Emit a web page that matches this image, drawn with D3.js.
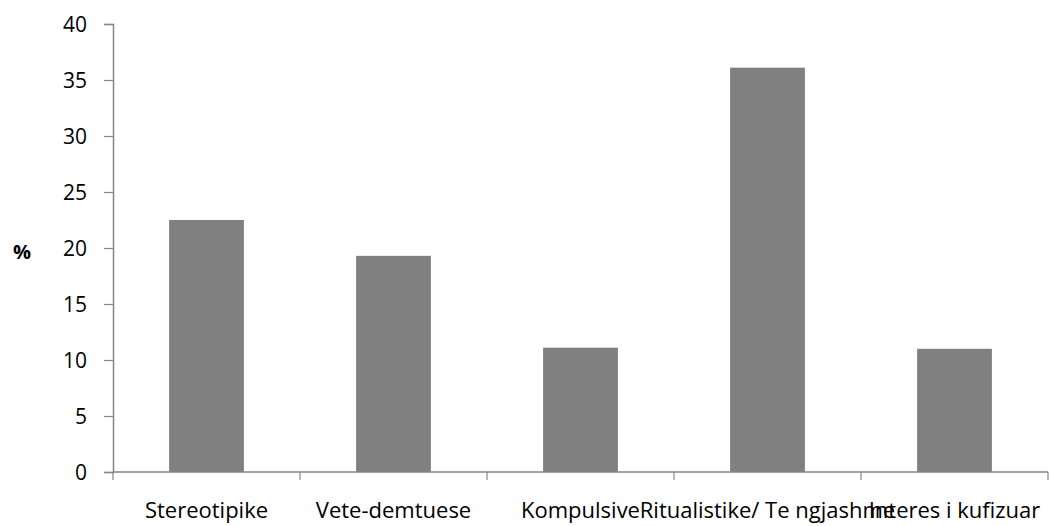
<!DOCTYPE html>
<html>
<head>
<meta charset="utf-8">
<script src="https://cdn.jsdelivr.net/npm/d3@7"></script>
<style>
  html, body { margin: 0; padding: 0; background: #fff; }
  svg text { font-family: "Open Sans", "Noto Sans", sans-serif; fill: #000; }
</style>
</head>
<body>
<svg id="chart" width="1049" height="526"></svg>
<script>
// Share of repetitive behaviour types (%)
const categories = ["Stereotipike", "Vete-demtuese", "Kompulsive", "Ritualistike/ Te ngjashme", "Interes i kufizuar"];
const values = [22.5, 19.3, 11.1, 36.1, 11.0];
const yTicks = [0, 5, 10, 15, 20, 25, 30, 35, 40];

const svg = d3.select("#chart");
const plotLeft = 113, plotRight = 1048, plotTop = 24, plotBottom = 472;

const x = d3.scaleBand().domain(categories).range([plotLeft, plotRight]).paddingInner(0.6).paddingOuter(0.3);
const band = d3.scaleBand().domain(categories).range([plotLeft, plotRight]);
const y = d3.scaleLinear().domain([0, 40]).range([plotBottom, plotTop]);

// bars
svg.append("g").selectAll("rect").data(categories).join("rect")
  .attr("x", d => x(d))
  .attr("width", x.bandwidth())
  .attr("y", (d, i) => y(values[i]))
  .attr("height", (d, i) => y(0) - y(values[i]))
  .attr("fill", "#808080");

// y axis
const yAxis = svg.append("g").attr("transform", `translate(${plotLeft},0)`)
  .call(d3.axisLeft(y).tickValues(yTicks).tickSize(9).tickPadding(17));
yAxis.select(".domain").attr("stroke", "#868686").attr("stroke-width", 1.5);
yAxis.selectAll(".tick line").attr("stroke", "#868686").attr("stroke-width", 1.2);
yAxis.selectAll(".tick text").attr("font-size", 21).attr("dy", "0.36em")
  .style("font-family", '"Open Sans", sans-serif');

// x axis: line and boundary ticks between categories
const xg = svg.append("g");
xg.append("line").attr("x1", plotLeft).attr("x2", plotRight).attr("y1", plotBottom).attr("y2", plotBottom)
  .attr("stroke", "#868686").attr("stroke-width", 1.5);
const bounds = categories.map(c => band(c)).concat([plotRight]);
xg.selectAll("line.tk").data(bounds).join("line").attr("class", "tk")
  .attr("x1", d => d).attr("x2", d => d).attr("y1", plotBottom).attr("y2", plotBottom + 8)
  .attr("stroke", "#868686").attr("stroke-width", 1.2);
xg.selectAll("text").data(categories).join("text")
  .attr("x", d => band(d) + band.bandwidth() / 2)
  .attr("y", 518)
  .attr("text-anchor", "middle")
  .attr("font-size", 22)
  .text(d => d);

// y axis title
svg.append("text").attr("x", 22).attr("y", 259).attr("text-anchor", "middle")
  .attr("font-size", 20).attr("font-weight", "bold").text("%");
</script>
</body>
</html>
